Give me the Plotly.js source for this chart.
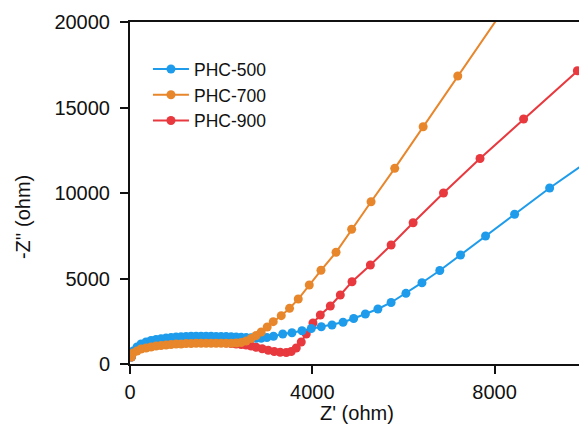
<!DOCTYPE html>
<html>
<head>
<meta charset="utf-8">
<script src="https://cdn.plot.ly/plotly-3.0.1.min.js"></script>
<style>html,body{margin:0;padding:0;background:#fff;overflow:hidden;}#chart{width:579px;height:433px;}</style>
</head>
<body>
<div id="chart"></div>
<script>
// PHC-500 (blue)
const phc500_x = [30, 66, 154, 242, 352, 462, 571, 681, 791, 901, 1011, 1121, 1231, 1341, 1451, 1560, 1670, 1780, 1890, 2000, 2110, 2220, 2330, 2440, 2549, 2659, 2769, 2879, 3004, 3149, 3352, 3554, 3774, 3978, 4198, 4433, 4675, 4908, 5165, 5440, 5730, 6055, 6407, 6798, 7253, 7802, 8440, 9209, 10088];
const phc500_y = [409, 760, 994, 1170, 1287, 1374, 1433, 1480, 1520, 1550, 1579, 1597, 1608, 1620, 1626, 1626, 1626, 1620, 1614, 1608, 1602, 1591, 1579, 1561, 1544, 1532, 1509, 1509, 1550, 1620, 1754, 1830, 1942, 2076, 2181, 2281, 2439, 2661, 2924, 3216, 3597, 4134, 4754, 5468, 6374, 7485, 8760, 10292, 11930];
// PHC-700 (orange)
const phc700_x = [30, 66, 154, 242, 352, 462, 571, 681, 791, 901, 1011, 1121, 1231, 1341, 1451, 1560, 1670, 1780, 1890, 2000, 2110, 2220, 2330, 2440, 2549, 2659, 2769, 2879, 3011, 3143, 3319, 3501, 3692, 3934, 4191, 4521, 4864, 5290, 5809, 6433, 7193, 8101];
const phc700_y = [409, 643, 760, 877, 936, 994, 1053, 1082, 1111, 1140, 1170, 1170, 1199, 1199, 1211, 1211, 1211, 1211, 1211, 1211, 1211, 1211, 1228, 1257, 1345, 1491, 1667, 1871, 2164, 2474, 2825, 3257, 3801, 4620, 5480, 6532, 7877, 9491, 11444, 13877, 16842, 20351];
// PHC-900 (red)
const phc900_x = [30, 66, 154, 242, 352, 462, 571, 681, 791, 901, 1011, 1121, 1231, 1341, 1451, 1560, 1670, 1780, 1890, 2000, 2110, 2220, 2330, 2440, 2549, 2659, 2769, 2901, 3033, 3165, 3297, 3429, 3538, 3648, 3758, 3868, 4015, 4176, 4396, 4615, 4872, 5275, 5730, 6213, 6879, 7681, 8637, 9817, 11209];
const phc900_y = [409, 702, 877, 994, 1111, 1170, 1228, 1287, 1316, 1345, 1374, 1386, 1392, 1392, 1386, 1374, 1345, 1316, 1287, 1257, 1228, 1199, 1170, 1140, 1111, 1053, 977, 889, 807, 731, 684, 673, 731, 936, 1287, 1754, 2398, 2866, 3392, 4035, 4813, 5790, 6959, 8263, 10000, 12018, 14327, 17152, 20468];

const names = ['PHC-500', 'PHC-700', 'PHC-900'];
const xTickVals = [0, 4000, 8000];
const yTickVals = [0, 5000, 10000, 15000, 20000];

const FONT = 'Liberation Sans, Arial, sans-serif';
function tr(x, y, name, color, rank) {
  return {
    x: x, y: y, name: name, type: 'scatter', mode: 'lines+markers',
    legendrank: rank,
    line: {color: color, width: 2},
    marker: {color: color, size: 9, line: {width: 0}}
  };
}
const data = [
  tr(phc900_x, phc900_y, names[2], '#E8393F', 3),
  tr(phc500_x, phc500_y, names[0], '#1E9CEB', 1),
  tr(phc700_x, phc700_y, names[1], '#E8862C', 2)
];
const layout = {
  width: 579, height: 433,
  margin: {l: 130, r: 0, t: 22, b: 69, pad: 0},
  paper_bgcolor: '#fff', plot_bgcolor: '#fff',
  font: {family: FONT, size: 20, color: '#111'},
  showlegend: true,
  legend: {x: 0.04, y: 0.915, xanchor: 'left', yanchor: 'top', bgcolor: 'rgba(0,0,0,0)',
           itemwidth: 36,
           font: {family: FONT, size: 17.5, color: '#111'}, traceorder: 'normal'},
  xaxis: {range: [0, 9853], tickvals: xTickVals, ticktext: xTickVals.map(String),
          showgrid: false, zeroline: false, showline: true, linecolor: '#111', linewidth: 2,
          mirror: true, ticks: 'outside', ticklen: 8, tickwidth: 2, tickcolor: '#111',
          ticklabelstandoff: 1, tickfont: {family: FONT, size: 20, color: '#111'}},
  yaxis: {range: [0, 20000], tickvals: yTickVals, ticktext: yTickVals.map(String),
          showgrid: false, zeroline: false, showline: true, linecolor: '#111', linewidth: 2,
          ticks: 'outside', ticklen: 8, tickwidth: 2, tickcolor: '#111',
          ticklabelstandoff: 6, tickfont: {family: FONT, size: 20, color: '#111'}},
  annotations: [
    {text: "-Z'' (ohm)", xref: 'paper', yref: 'paper', x: -0.238, y: 0.43,
     xanchor: 'center', yanchor: 'middle', textangle: -90, showarrow: false,
     font: {family: FONT, size: 20, color: '#111'}},
    {text: "Z' (ohm)", xref: 'paper', yref: 'paper', x: 0.5056, y: -0.143,
     xanchor: 'center', yanchor: 'middle', showarrow: false,
     font: {family: FONT, size: 20, color: '#111'}}
  ]
};
Plotly.newPlot('chart', data, layout, {displayModeBar: false, staticPlot: true});
</script>
</body>
</html>
